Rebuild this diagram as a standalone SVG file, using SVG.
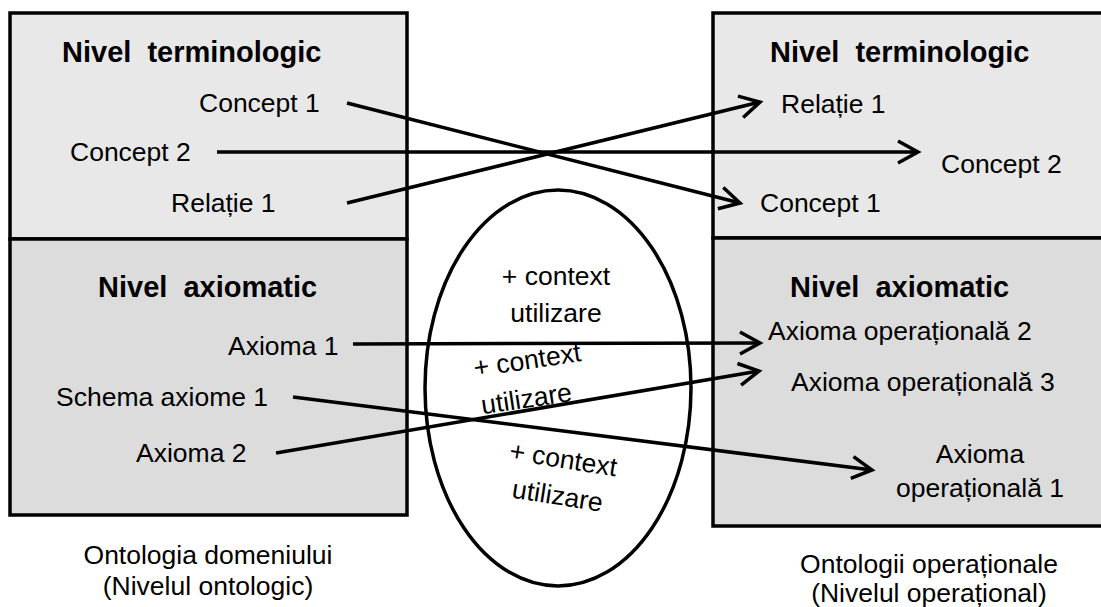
<svg xmlns="http://www.w3.org/2000/svg" width="1101" height="607" viewBox="0 0 1101 607">
  <defs>
    <style>
      .box { stroke: #000; stroke-width: 3.5; }
      .term { fill: #e8e8e8; }
      .axio { fill: #dcdcdc; }
      .title { font-family: "Liberation Sans", Arial, sans-serif; font-weight: bold; font-size: 29px; fill: #000; white-space: pre; }
      .lbl { font-family: "Liberation Sans", Arial, sans-serif; font-size: 26.5px; fill: #000; }
      .mid { text-anchor: middle; }
      .conn { stroke: #000; stroke-width: 3.5; fill: none; marker-end: url(#chev); }
    </style>
    <marker id="chev" markerUnits="userSpaceOnUse" markerWidth="30" markerHeight="30" refX="0" refY="0" orient="auto" overflow="visible" viewBox="-25 -15 30 30">
      <path d="M-20,-11 L0,0 L-20,11" fill="none" stroke="#000" stroke-width="3.5" stroke-linejoin="miter"/>
    </marker>
  </defs>

  <rect width="1101" height="607" fill="#fff"/>

  <!-- Domain ontology (left) -->
  <g id="domain-ontology">
    <g id="domain-terminological">
      <rect class="box term" x="10" y="13" width="397" height="226"/>
      <text class="title" x="62" y="62">Nivel  terminologic</text>
      <text class="lbl" x="199" y="112">Concept 1</text>
      <text class="lbl" x="70" y="161">Concept 2</text>
      <text class="lbl" x="171" y="212">Relație 1</text>
    </g>
    <g id="domain-axiomatic">
      <rect class="box axio" x="10" y="239" width="397" height="276"/>
      <text class="title" x="98" y="297">Nivel  axiomatic</text>
      <text class="lbl" x="228" y="355">Axioma 1</text>
      <text class="lbl" x="56" y="406">Schema axiome 1</text>
      <text class="lbl" x="136" y="462">Axioma 2</text>
    </g>
    <text class="lbl mid" x="208" y="564">Ontologia domeniului</text>
    <text class="lbl mid" x="208" y="595">(Nivelul ontologic)</text>
  </g>

  <!-- Operational ontologies (right) -->
  <g id="operational-ontologies">
    <g id="operational-terminological">
      <rect class="box term" x="713" y="13" width="400" height="225"/>
      <text class="title" x="770" y="62">Nivel  terminologic</text>
      <text class="lbl" x="781" y="113">Relație 1</text>
      <text class="lbl" x="941" y="173">Concept 2</text>
      <text class="lbl" x="760" y="212">Concept 1</text>
    </g>
    <g id="operational-axiomatic">
      <rect class="box axio" x="713" y="238" width="400" height="288"/>
      <text class="title" x="790" y="297">Nivel  axiomatic</text>
      <text class="lbl" x="768" y="340">Axioma operațională 2</text>
      <text class="lbl" x="791" y="391">Axioma operațională 3</text>
      <text class="lbl mid" x="980" y="463">Axioma</text>
      <text class="lbl mid" x="980" y="497">operațională 1</text>
    </g>
    <text class="lbl mid" x="929" y="573">Ontologii operaționale</text>
    <text class="lbl mid" x="929" y="602">(Nivelul operațional)</text>
  </g>

  <!-- Usage context -->
  <g id="usage-context">
    <ellipse cx="558" cy="388" rx="133" ry="198" fill="#fff" stroke="#000" stroke-width="3.5"/>
    <text class="lbl mid" x="556" y="285">+ context</text>
    <text class="lbl mid" x="556" y="322">utilizare</text>
    <g transform="translate(475,377) rotate(-8.5)">
      <text class="lbl" x="0" y="0">+ context</text>
      <text class="lbl" x="2" y="38">utilizare</text>
    </g>
    <g transform="translate(562,468) rotate(9)">
      <text class="lbl mid" x="0" y="0">+ context</text>
      <text class="lbl mid" x="0" y="37">utilizare</text>
    </g>
  </g>

  <!-- Mappings -->
  <g id="connectors">
    <line class="conn" x1="347" y1="103" x2="740" y2="203"/>
    <line class="conn" x1="217" y1="152" x2="918" y2="152"/>
    <line class="conn" x1="347" y1="203" x2="760" y2="102"/>
    <line class="conn" x1="353" y1="344" x2="760" y2="343"/>
    <line class="conn" x1="293" y1="397" x2="872" y2="470"/>
    <line class="conn" x1="276" y1="453" x2="759" y2="371"/>
  </g>
</svg>
